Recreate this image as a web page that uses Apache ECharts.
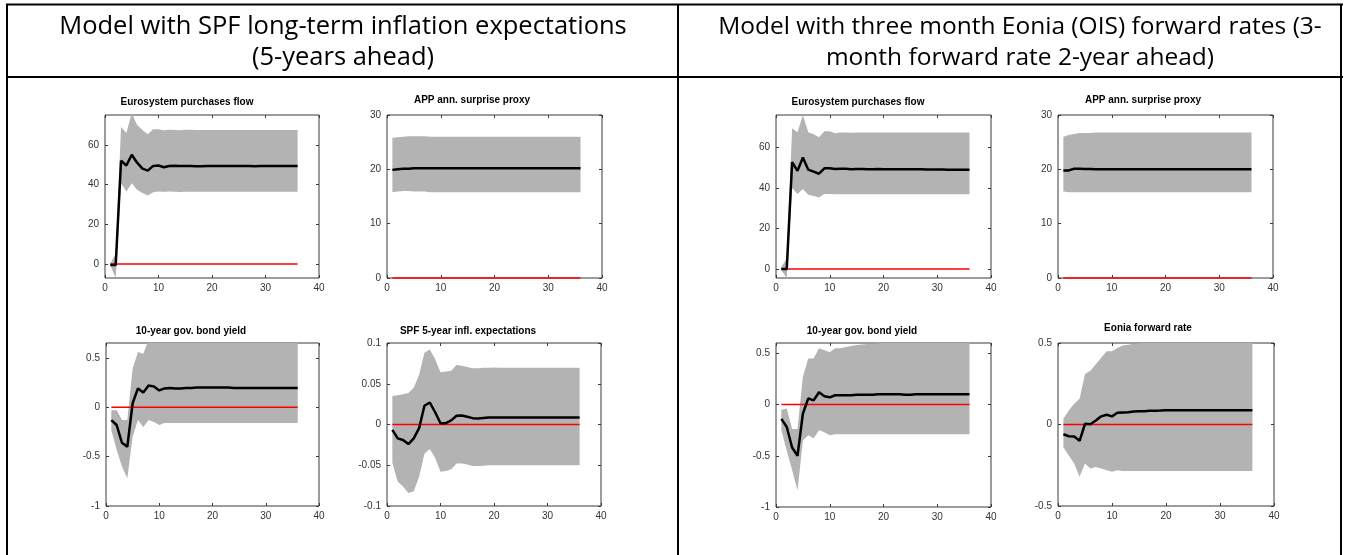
<!DOCTYPE html>
<html>
<head>
<meta charset="utf-8">
<script src="https://cdn.jsdelivr.net/npm/echarts@6/dist/echarts.min.js"></script>
<style>
html,body{margin:0;padding:0;background:#fff;}
#chart{width:1349px;height:555px;}
</style>
</head>
<body>
<div id="chart"></div>
<script>
// ---------- data ----------
const horizons = [1,2,3,4,5,6,7,8,9,10,11,12,13,14,15,16,17,18,19,20,21,22,23,24,25,26,27,28,29,30,31,32,33,34,35,36];

const headerLeft = ["Model with SPF long-term inflation expectations", "(5-years ahead)"];
const headerRight = ["Model with three month Eonia (OIS) forward rates (3-", "month forward rate 2-year ahead)"];

const panelTitles = ["Eurosystem purchases flow", "APP ann. surprise proxy", "10-year gov. bond yield", "SPF 5-year infl. expectations",
                     "Eurosystem purchases flow", "APP ann. surprise proxy", "10-year gov. bond yield", "Eonia forward rate"];

const yTicksPurch = [0,20,40,60];
const yTicksApp = [0,10,20,30];
const yTicksBond = [-1,-0.5,0,0.5];
const yTicksSpf = [-0.1,-0.05,0,0.05,0.1];
const yTicksEonia = [-0.5,0,0.5];

// Left column (SPF model)
const purchSpfMid = [-0.5,-0.5,52,49.6,55,51,48,47,49.4,49.6,48.7,49.3,
  49.5,49.4,49.3,49.3,49.2,49.2,49.3,49.3,49.4,49.3,49.3,49.3,
  49.3,49.3,49.3,49.2,49.3,49.3,49.3,49.3,49.3,49.3,49.3,49.3];
const purchSpfUp = [0.5,5,69,66,76,70,67.5,65.3,67.8,67.8,67.3,67.6,
  67.4,67.3,67.6,67.6,67.5,67.4,67.5,67.5,67.5,67.5,67.5,67.5,
  67.5,67.5,67.5,67.5,67.5,67.5,67.5,67.5,67.5,67.5,67.5,67.5];
const purchSpfLo = [-0.7,-7,40.7,36.5,40.7,37.4,35.7,34.5,36.2,36.5,36.4,36.5,
  36.4,36.3,36.4,36.4,36.4,36.4,36.4,36.4,36.4,36.4,36.4,36.4,
  36.4,36.4,36.4,36.4,36.4,36.4,36.4,36.4,36.4,36.4,36.4,36.4];

const appSpfMid = [19.9,20.0,20.1,20.1,20.2,20.2,20.2,20.2,20.2,20.2,20.2,20.2,
  20.2,20.2,20.2,20.2,20.2,20.2,20.2,20.2,20.2,20.2,20.2,20.2,
  20.2,20.2,20.2,20.2,20.2,20.2,20.2,20.2,20.2,20.2,20.2,20.2];
const appSpfUp = [25.8,25.9,26.0,26.1,26.1,26.1,26.1,26.0,26.0,26.0,26.0,26.0,
  26.0,26.0,26.0,26.0,26.0,26.0,26.0,26.0,26.0,26.0,26.0,26.0,
  26.0,26.0,26.0,26.0,26.0,26.0,26.0,26.0,26.0,26.0,26.0,26.0];
const appSpfLo = [15.8,15.9,16.0,16.0,15.9,15.9,15.9,15.8,15.8,15.8,15.8,15.8,
  15.8,15.8,15.8,15.8,15.8,15.8,15.8,15.8,15.8,15.8,15.8,15.8,
  15.8,15.8,15.8,15.8,15.8,15.8,15.8,15.8,15.8,15.8,15.8,15.8];

const bondSpfMid = [-0.13,-0.18,-0.36,-0.40,0.04,0.19,0.15,0.22,0.21,0.17,0.19,0.195,
  0.19,0.19,0.195,0.195,0.2,0.2,0.2,0.2,0.2,0.2,0.2,0.195,
  0.195,0.195,0.195,0.195,0.195,0.195,0.195,0.195,0.195,0.195,0.195,0.195];
const bondSpfUp = [-0.03,-0.03,-0.13,-0.13,0.39,0.56,0.54,0.68,0.7,0.7,0.7,0.7,
  0.7,0.7,0.7,0.7,0.7,0.7,0.7,0.7,0.7,0.7,0.7,0.7,
  0.7,0.7,0.7,0.7,0.7,0.7,0.7,0.7,0.7,0.7,0.7,0.7];
const bondSpfLo = [-0.23,-0.43,-0.6,-0.72,-0.30,-0.13,-0.2,-0.13,-0.15,-0.18,-0.16,-0.16,
  -0.16,-0.16,-0.16,-0.16,-0.16,-0.16,-0.16,-0.16,-0.16,-0.16,-0.16,-0.16,
  -0.16,-0.16,-0.16,-0.16,-0.16,-0.16,-0.16,-0.16,-0.16,-0.16,-0.16,-0.16];

const spfMid = [-0.0066,-0.017,-0.019,-0.024,-0.017,-0.0045,0.023,0.027,0.015,0.0016,0.0016,0.005,
  0.0107,0.011,0.0094,0.0078,0.0074,0.008,0.0086,0.0086,0.0086,0.0086,0.0086,0.0086,
  0.0086,0.0086,0.0086,0.0086,0.0086,0.0086,0.0086,0.0086,0.0086,0.0086,0.0086,0.0086];
const spfUp = [0.035,0.036,0.037,0.0385,0.045,0.061,0.088,0.092,0.08,0.064,0.065,0.066,
  0.073,0.072,0.0705,0.069,0.069,0.0695,0.0695,0.07,0.0695,0.0695,0.0695,0.0695,
  0.0695,0.0695,0.0695,0.0695,0.0695,0.0695,0.0695,0.0695,0.0695,0.0695,0.0695,0.0695];
const spfLo = [-0.047,-0.07,-0.076,-0.084,-0.082,-0.064,-0.036,-0.030,-0.041,-0.058,-0.057,-0.055,
  -0.048,-0.048,-0.049,-0.051,-0.051,-0.0505,-0.05,-0.05,-0.05,-0.05,-0.05,-0.05,
  -0.05,-0.05,-0.05,-0.05,-0.05,-0.05,-0.05,-0.05,-0.05,-0.05,-0.05,-0.05];

// Right column (OIS model)
const purchOisMid = [0,0,52.7,48.4,55,49,48,47,49.7,49.7,49.3,49.4,
  49.4,49.2,49.3,49.3,49.2,49.2,49.3,49.2,49.2,49.2,49.2,49.2,
  49.2,49.2,49.2,49.1,49.1,49.1,49.1,49.0,49.0,49.0,49.0,49.0];
const purchOisUp = [1,5,69.5,67.5,76,67.5,66.5,65,68,68,67,67.3,
  67.3,67.2,67.3,67.3,67.3,67.3,67.3,67.3,67.3,67.3,67.3,67.3,
  67.3,67.3,67.3,67.3,67.3,67.3,67.3,67.3,67.3,67.3,67.3,67.3];
const purchOisLo = [-0.5,-4.6,40,37,39.4,36.6,36,35.2,37,37,36.9,36.9,
  36.9,36.9,36.9,36.9,36.9,36.9,36.9,36.9,36.9,36.9,36.9,36.9,
  36.9,36.9,36.9,36.9,36.9,36.9,36.9,36.9,36.9,36.9,36.9,36.9];

const appOisMid = [19.8,19.8,20.1,20.1,20.05,20.05,20.0,20.0,20.0,20.0,20.0,20.0,
  20.0,20.0,20.0,20.0,20.0,20.0,20.0,20.0,20.0,20.0,20.0,20.0,
  20.0,20.0,20.0,20.0,20.0,20.0,20.0,20.0,20.0,20.0,20.0,20.0];
const appOisUp = [26.0,26.3,26.5,26.7,26.7,26.7,26.8,26.8,26.8,26.8,26.8,26.8,
  26.8,26.8,26.8,26.8,26.8,26.8,26.8,26.8,26.8,26.8,26.8,26.8,
  26.8,26.8,26.8,26.8,26.8,26.8,26.8,26.8,26.8,26.8,26.8,26.8];
const appOisLo = [15.9,15.8,15.8,15.8,15.8,15.8,15.8,15.8,15.8,15.8,15.8,15.8,
  15.8,15.8,15.8,15.8,15.8,15.8,15.8,15.8,15.8,15.8,15.8,15.8,
  15.8,15.8,15.8,15.8,15.8,15.8,15.8,15.8,15.8,15.8,15.8,15.8];

const bondOisMid = [-0.14,-0.22,-0.42,-0.5,-0.09,0.06,0.04,0.12,0.08,0.07,0.09,0.09,
  0.09,0.09,0.095,0.095,0.095,0.095,0.1,0.1,0.1,0.1,0.1,0.095,
  0.095,0.1,0.1,0.1,0.1,0.1,0.1,0.1,0.1,0.1,0.1,0.1];
const bondOisUp = [-0.05,-0.04,-0.24,-0.24,0.27,0.45,0.45,0.55,0.53,0.51,0.55,0.55,
  0.56,0.57,0.58,0.585,0.59,0.59,0.595,0.6,0.61,0.61,0.61,0.61,
  0.61,0.61,0.61,0.61,0.61,0.61,0.61,0.61,0.61,0.61,0.61,0.61];
const bondOisLo = [-0.25,-0.45,-0.64,-0.84,-0.35,-0.3,-0.33,-0.25,-0.27,-0.3,-0.29,-0.29,
  -0.29,-0.29,-0.29,-0.29,-0.29,-0.29,-0.29,-0.29,-0.29,-0.29,-0.29,-0.29,
  -0.29,-0.29,-0.29,-0.29,-0.29,-0.29,-0.29,-0.29,-0.29,-0.29,-0.29,-0.29];

const eoniaMid = [-0.06,-0.072,-0.074,-0.1,0.004,0.002,0.025,0.05,0.06,0.05,0.072,0.074,
  0.075,0.08,0.081,0.082,0.084,0.085,0.086,0.088,0.088,0.088,0.088,0.088,
  0.088,0.088,0.088,0.088,0.088,0.088,0.088,0.088,0.088,0.088,0.088,0.088];
const eoniaUp = [0.035,0.086,0.127,0.158,0.31,0.33,0.37,0.41,0.45,0.45,0.47,0.485,
  0.49,0.495,0.497,0.5,0.5,0.5,0.5,0.5,0.5,0.5,0.5,0.5,
  0.5,0.5,0.5,0.5,0.5,0.5,0.5,0.5,0.5,0.5,0.5,0.5];
const eoniaLo = [-0.14,-0.19,-0.24,-0.32,-0.24,-0.27,-0.26,-0.27,-0.28,-0.29,-0.28,-0.285,
  -0.285,-0.285,-0.285,-0.285,-0.285,-0.285,-0.285,-0.285,-0.285,-0.285,-0.285,-0.285,
  -0.285,-0.285,-0.285,-0.285,-0.285,-0.285,-0.285,-0.285,-0.285,-0.285,-0.285,-0.285];

const zeroLevel = 0;

// ---------- layout ----------
const panels = [
  {mid: purchSpfMid, up: purchSpfUp, lo: purchSpfLo, yMin: -7,   yMax: 75,   yTicks: yTicksPurch, g: [105, 115, 214, 163], t: [187, 97]},
  {mid: appSpfMid,   up: appSpfUp,   lo: appSpfLo,   yMin: 0,    yMax: 30,   yTicks: yTicksApp,   g: [387, 115, 215, 163], t: [472, 95]},
  {mid: bondSpfMid,  up: bondSpfUp,  lo: bondSpfLo,  yMin: -1,   yMax: 0.65, yTicks: yTicksBond,  g: [106, 343, 213, 163], t: [191, 326]},
  {mid: spfMid,      up: spfUp,      lo: spfLo,      yMin: -0.1, yMax: 0.1,  yTicks: yTicksSpf,   g: [387, 343, 214, 163], t: [468, 326]},
  {mid: purchOisMid, up: purchOisUp, lo: purchOisLo, yMin: -4.5, yMax: 76,   yTicks: yTicksPurch, g: [776, 115, 215, 163], t: [858, 97]},
  {mid: appOisMid,   up: appOisUp,   lo: appOisLo,   yMin: 0,    yMax: 30,   yTicks: yTicksApp,   g: [1058, 115, 215, 163], t: [1143, 95]},
  {mid: bondOisMid,  up: bondOisUp,  lo: bondOisLo,  yMin: -1,   yMax: 0.6,  yTicks: yTicksBond,  g: [776, 343, 215, 164], t: [862, 326]},
  {mid: eoniaMid,    up: eoniaUp,    lo: eoniaLo,    yMin: -0.5, yMax: 0.5,  yTicks: yTicksEonia, g: [1058, 343, 216, 163], t: [1148, 323]}
];

const axisColor = '#3a3a3a';
const labelColor = '#333333';
const bandColor = '#b3b3b3';
const labelFont = 'Liberation Sans';

const grid = [], xAxis = [], yAxis = [], series = [], title = [];

function bandRenderItem(params, api) {
  if (params.dataIndexInside !== 0) return null;
  const n = params.dataInsideLength;
  const upper = [], lower = [];
  for (let k = 0; k < n; k++) {
    const x = api.value(0, k);
    lower.push(api.coord([x, api.value(1, k)]));
    upper.push(api.coord([x, api.value(2, k)]));
  }
  const pts = lower.concat(upper.reverse());
  const cs = params.coordSys;
  return {
    type: 'polygon',
    shape: {points: pts},
    style: {fill: bandColor, stroke: null},
    clipPath: {type: 'rect', shape: {x: cs.x, y: cs.y, width: cs.width, height: cs.height}}
  };
}

panels.forEach((p, i) => {
  grid.push({left: p.g[0], top: p.g[1], width: p.g[2], height: p.g[3], show: true,
             borderColor: axisColor, borderWidth: 1, backgroundColor: 'transparent'});
  const xBase = {type: 'value', gridIndex: i, min: 0, max: 40, interval: 10,
    axisLine: {show: false, onZero: false}, splitLine: {show: false},
    axisTick: {show: true, inside: true, length: 3, lineStyle: {color: axisColor}}};
  xAxis.push(Object.assign({}, xBase, {position: 'bottom',
    axisLabel: {show: true, fontSize: 10, color: labelColor, fontFamily: labelFont, margin: 5}}));
  xAxis.push(Object.assign({}, xBase, {position: 'top', axisLabel: {show: false}}));
  const yBase = {type: 'value', gridIndex: i, min: p.yMin, max: p.yMax,
    axisLine: {show: false, onZero: false}, splitLine: {show: false},
    axisTick: {show: true, inside: true, length: 3, customValues: p.yTicks, lineStyle: {color: axisColor}}};
  yAxis.push(Object.assign({}, yBase, {position: 'left',
    axisLabel: {show: true, fontSize: 10, color: labelColor, fontFamily: labelFont, margin: 6,
      customValues: p.yTicks, formatter: v => String(v)}}));
  yAxis.push(Object.assign({}, yBase, {position: 'right', axisLabel: {show: false}}));

  const xi = i * 2, yi = i * 2;
  series.push({type: 'custom', xAxisIndex: xi, yAxisIndex: yi, silent: true, z: 1,
    renderItem: bandRenderItem,
    encode: {x: 0, y: [1, 2]},
    data: horizons.map((h, k) => [h, p.lo[k], p.up[k]])});
  series.push({type: 'line', xAxisIndex: xi, yAxisIndex: yi, symbol: 'none', silent: true, z: 2,
    clip: false,
    lineStyle: {color: '#ff0000', width: 1.5},
    data: horizons.map(h => [h, zeroLevel])});
  series.push({type: 'line', xAxisIndex: xi, yAxisIndex: yi, symbol: 'none', silent: true, z: 3,
    lineStyle: {color: '#000000', width: 2.5},
    data: horizons.map((h, k) => [h, p.mid[k]])});

  title.push({text: panelTitles[i], left: p.t[0], top: p.t[1], textAlign: 'center', padding: 0,
    textStyle: {fontSize: 10, fontWeight: 'bold', color: '#000', fontFamily: labelFont}});
});

const headerFontL = '25.5px "Open Sans"';
const headerFontR = '24.5px "Open Sans"';
const lineW = 2;
const graphic = [
  // table borders
  {type: 'line', shape: {x1: 6, y1: 4.5, x2: 1343, y2: 4.5}, style: {stroke: '#000', lineWidth: lineW}},
  {type: 'line', shape: {x1: 6, y1: 77, x2: 1343, y2: 77}, style: {stroke: '#000', lineWidth: lineW}},
  {type: 'line', shape: {x1: 7, y1: 4, x2: 7, y2: 555}, style: {stroke: '#000', lineWidth: lineW}},
  {type: 'line', shape: {x1: 678, y1: 4, x2: 678, y2: 555}, style: {stroke: '#000', lineWidth: lineW}},
  {type: 'line', shape: {x1: 1341, y1: 4, x2: 1341, y2: 555}, style: {stroke: '#000', lineWidth: lineW}},
  // header texts
  {type: 'text', x: 343, y: 27, style: {text: headerLeft[0], font: headerFontL, fill: '#000', textAlign: 'center', textVerticalAlign: 'middle'}},
  {type: 'text', x: 343, y: 58, style: {text: headerLeft[1], font: headerFontL, fill: '#000', textAlign: 'center', textVerticalAlign: 'middle'}},
  {type: 'text', x: 1020, y: 27, style: {text: headerRight[0], font: headerFontR, fill: '#000', textAlign: 'center', textVerticalAlign: 'middle'}},
  {type: 'text', x: 1020, y: 58, style: {text: headerRight[1], font: headerFontR, fill: '#000', textAlign: 'center', textVerticalAlign: 'middle'}}
];

const chart = echarts.init(document.getElementById('chart'), null, {renderer: 'canvas'});
chart.setOption({
  animation: false,
  backgroundColor: '#ffffff',
  title: title,
  grid: grid,
  xAxis: xAxis,
  yAxis: yAxis,
  series: series,
  graphic: graphic
});
</script>
</body>
</html>
